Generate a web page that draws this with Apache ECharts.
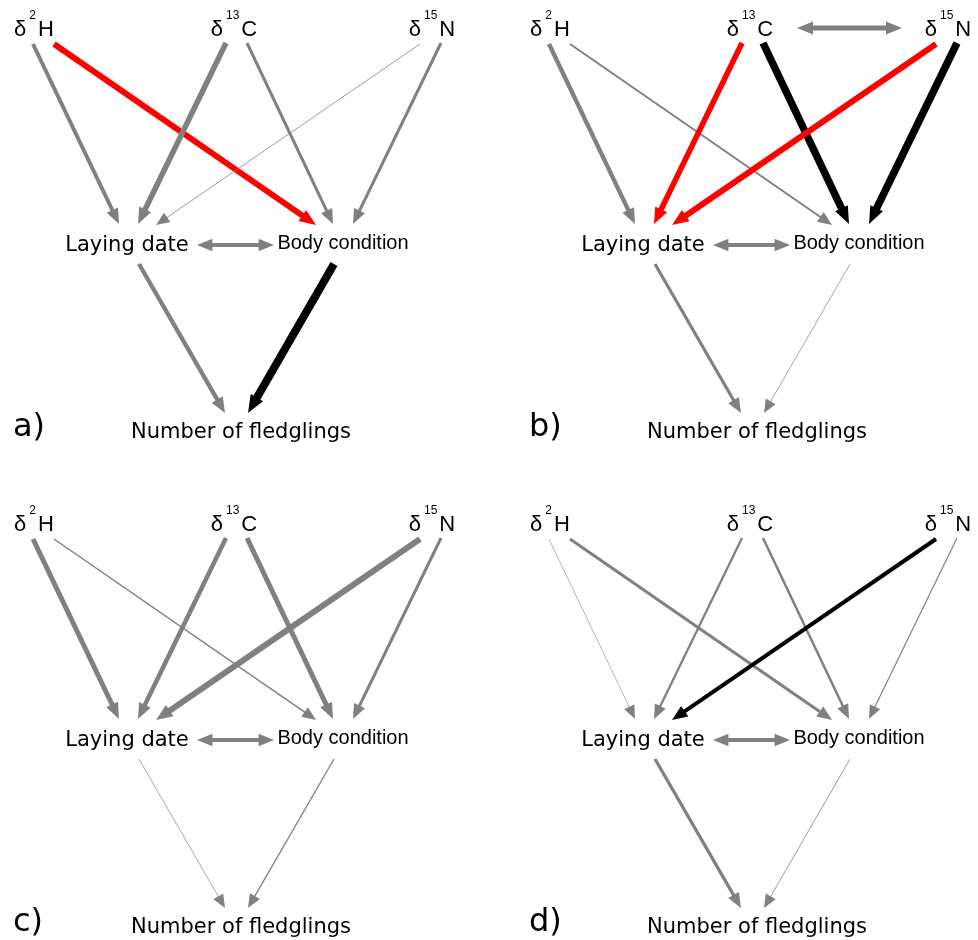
<!DOCTYPE html>
<html>
<head>
<meta charset="utf-8">
<title>Path diagrams</title>
<script src="https://cdn.jsdelivr.net/npm/echarts@6/dist/echarts.min.js"></script>
<style>
  html, body { margin: 0; padding: 0; background: #fff; }
  #paths { width: 978px; height: 940px; }
</style>
</head>
<body>
<div id="paths"></div>
<script>
// ---- data (diagram units, one unit = one pixel of a panel) ----
var panelNames = ['a)', 'b)', 'c)', 'd)'];

var nodeNames = ['δ2H', 'δ13C', 'δ15N', 'Laying date', 'Body condition', 'Number of fledglings'];
var nodeText = [
  '{d|δ}{s|2}{d|H}',
  '{d|δ}{s|13}{d|C}',
  '{d|δ}{s|15}{d|N}',
  '{v|Laying date}',
  '{b|Body condition}',
  '{v|Number of fledglings}'
];
var nodeX = [34, 234, 432, 127, 343, 241];
var nodeY = [30, 30, 30, 246, 243, 433];

// paths: start and tip of every arrow
var pathNames = ['δ2H→LD', 'δ2H→BC', 'δ13C→LD', 'δ13C→BC', 'δ15N→LD', 'δ15N→BC', 'LD→NF', 'BC→NF'];
var pathFrom = [[33, 44], [54, 44], [226, 43], [247, 43], [420, 44], [441, 43], [139, 264], [334, 264]];
var pathTo = [[119, 224], [316, 225], [138, 224], [333, 224], [156, 225], [353, 224], [225, 413], [248, 413]];

// arrow weight and tone per panel (g = n.s., r = negative, k = positive)
var widthA = [4, 6, 5.5, 3, 0.8, 3, 4.3, 8];
var toneA = ['g', 'r', 'g', 'g', 'g', 'g', 'g', 'k'];
var widthB = [4.3, 2, 5.5, 7.5, 6, 7.5, 3.2, 0.7];
var toneB = ['g', 'g', 'r', 'k', 'r', 'k', 'g', 'g'];
var widthC = [5, 1.5, 4.5, 5, 6, 3, 0.7, 1.3];
var toneC = ['g', 'g', 'g', 'g', 'g', 'g', 'g', 'g'];
var widthD = [0.6, 3, 2.3, 2.5, 4, 1.2, 3.3, 0.8];
var toneD = ['g', 'g', 'g', 'g', 'k', 'g', 'g', 'g'];

// covariances (double-headed)
var covNames = ['LD↔BC', 'δ13C↔δ15N'];
var covFrom = [[197, 245], [281, 28]];
var covTo = [[274, 245], [386, 28]];
var covWidth = [[4, 0], [4, 5], [4, 0], [4, 0]];

var panelLabelPos = [13, 428];

// ---- chart ----
var widths = [widthA, widthB, widthC, widthD];
var tones = [toneA, toneB, toneC, toneD];
var toneIndex = { g: 0, r: 1, k: 2 };
var toneColor = ['#808080', '#ff0000', '#000000'];

var rich = {
  d: { fontFamily: 'Liberation Sans', fontSize: 22, lineHeight: 40, fill: '#000', color: '#000' },
  s: { fontFamily: 'Liberation Sans', fontSize: 12, lineHeight: 12, verticalAlign: 'top', padding: [0, 2, 0, 3], fill: '#000', color: '#000' },
  v: { fontFamily: 'DejaVu Sans', fontSize: 21, fill: '#000', color: '#000' },
  b: { fontFamily: 'Liberation Sans', fontSize: 20, fill: '#000', color: '#000' },
  p: { fontFamily: 'DejaVu Sans', fontSize: 32, fill: '#000', color: '#000' }
};

function renderEdge(params, api) {
  var a = api.coord([api.value(0), api.value(1)]);
  var b = api.coord([api.value(2), api.value(3)]);
  var w = api.value(4);
  var color = toneColor[api.value(5)];
  var twoHeads = api.value(6) === 1;
  var dx = b[0] - a[0], dy = b[1] - a[1];
  var len = Math.sqrt(dx * dx + dy * dy);
  var ux = dx / len, uy = dy / len;
  var nx = -uy, ny = ux;
  var hl = 13 + 0.6 * w, hw = 11 + 0.4 * w;

  function head(tip, sgn) {
    var bx = tip[0] - sgn * ux * hl, by = tip[1] - sgn * uy * hl;
    return {
      type: 'polygon',
      shape: { points: [[tip[0], tip[1]], [bx + nx * hw / 2, by + ny * hw / 2], [bx - nx * hw / 2, by - ny * hw / 2]] },
      style: { fill: color }
    };
  }
  var s = twoHeads ? [a[0] + ux * (hl - 1), a[1] + uy * (hl - 1)] : a;
  var e = [b[0] - ux * (hl - 1), b[1] - uy * (hl - 1)];
  var children = [{
    type: 'line',
    shape: { x1: s[0], y1: s[1], x2: e[0], y2: e[1] },
    style: { stroke: color, lineWidth: w, lineCap: 'butt' }
  }, head(b, 1)];
  if (twoHeads) children.push(head(a, -1));
  return { type: 'group', children: children };
}

function renderNode(params, api) {
  var p = api.coord([api.value(0), api.value(1)]);
  return {
    type: 'text',
    style: {
      text: nodeText[api.value(2)], rich: rich,
      x: p[0], y: p[1], align: 'center', verticalAlign: 'middle'
    }
  };
}

function renderPanelLabel(params, api) {
  var p = api.coord([api.value(0), api.value(1)]);
  return {
    type: 'text',
    style: {
      text: '{p|' + panelNames[api.value(2)] + '}', rich: rich,
      x: p[0], y: p[1], align: 'left', verticalAlign: 'middle'
    }
  };
}

var grids = [], xAxes = [], yAxes = [], series = [];
var gridLeft = [0, 516, 0, 516], gridTop = [0, 0, 495, 495];

panelNames.forEach(function (name, i) {
  grids.push({ left: gridLeft[i], top: gridTop[i], width: 460, height: 445 });
  xAxes.push({ type: 'value', gridIndex: i, min: 0, max: 460, show: false });
  yAxes.push({ type: 'value', gridIndex: i, min: 0, max: 445, inverse: true, show: false });

  var rows = pathFrom.map(function (f, k) {
    return [f[0], f[1], pathTo[k][0], pathTo[k][1], widths[i][k], toneIndex[tones[i][k]], 0];
  });
  covFrom.forEach(function (f, k) {
    if (covWidth[i][k] > 0) rows.push([f[0], f[1], covTo[k][0], covTo[k][1], covWidth[i][k], 0, 1]);
  });

  series.push({
    type: 'custom', name: 'paths ' + name, xAxisIndex: i, yAxisIndex: i,
    renderItem: renderEdge, data: rows, clip: false, silent: true
  });
  series.push({
    type: 'custom', name: 'nodes ' + name, xAxisIndex: i, yAxisIndex: i,
    renderItem: renderNode, clip: false, silent: true,
    data: nodeNames.map(function (n, k) { return [nodeX[k], nodeY[k], k]; })
  });
  series.push({
    type: 'custom', name: 'label ' + name, xAxisIndex: i, yAxisIndex: i,
    renderItem: renderPanelLabel, clip: false, silent: true,
    data: [[panelLabelPos[0], panelLabelPos[1], i]]
  });
});

var myChart = echarts.init(document.getElementById('paths'), null, { renderer: 'canvas' });
var option = {
  backgroundColor: '#fff',
  animation: false,
  grid: grids,
  xAxis: xAxes,
  yAxis: yAxes,
  series: series
};
myChart.setOption(option);
window.addEventListener('resize', myChart.resize);
</script>
</body>
</html>
